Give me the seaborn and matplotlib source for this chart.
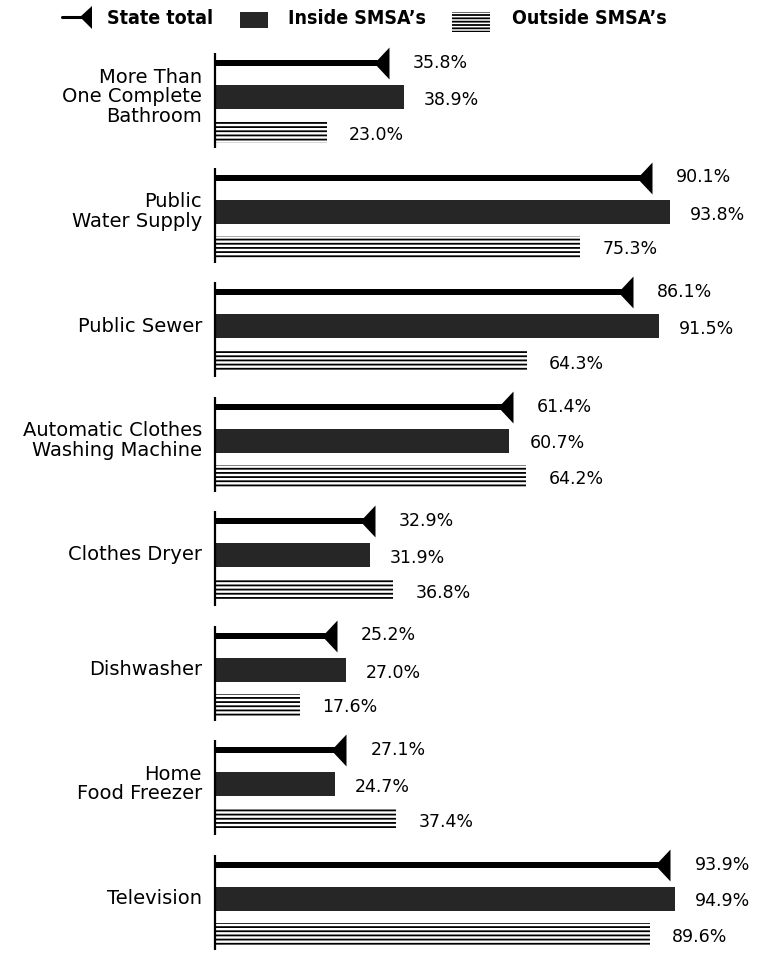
import numpy as np
import pandas as pd
import seaborn as sns
import matplotlib.pyplot as plt
from matplotlib.path import Path
from matplotlib.patches import Rectangle, Polygon
from matplotlib.lines import Line2D

# Data
categories = [
    "More Than\nOne Complete\nBathroom",
    "Public\nWater Supply",
    "Public Sewer",
    "Automatic Clothes\nWashing Machine",
    "Clothes Dryer",
    "Dishwasher",
    "Home\nFood Freezer",
    "Television",
]
state_total = [35.8, 90.1, 86.1, 61.4, 32.9, 25.2, 27.1, 93.9]
inside_smsa = [38.9, 93.8, 91.5, 60.7, 31.9, 27.0, 24.7, 94.9]
outside_smsa = [23.0, 75.3, 64.3, 64.2, 36.8, 17.6, 37.4, 89.6]

sns.set_theme(style="white")
plt.rcParams["font.family"] = ["DejaVu Sans"]
plt.rcParams["text.color"] = "black"
plt.rcParams["hatch.linewidth"] = 1.3

W, H = 762, 957
PX = 4.85      # pixels per percent
X0 = 215       # pixel position of the zero line
GROUP = 114.5  # vertical spacing between groups (px)
TOP = 63
DARK = "#262626"

fig = plt.figure(figsize=(W / 100, H / 100), dpi=100)
ax = fig.add_axes([0, 0, 1, 1])

ys = TOP + GROUP * np.arange(len(categories))
df = pd.DataFrame({
    "label": categories,
    "state": state_total,
    "inside": inside_smsa,
    "outside": outside_smsa,
    "y_state": ys,
    "y_in": ys + 34,
    "y_out": ys + 69,
})

# state total: thick line + left pointing triangle at the value
sns.barplot(data=df, x="state", y="y_state", orient="y", native_scale=True,
            width=6 / GROUP, color="black", saturation=1, errorbar=None,
            linewidth=0, ax=ax)
tri = Path([(0, 1), (0, -1), (-0.94, 0), (0, 1)], closed=True)
ax.scatter(df["state"], df["y_state"], marker=tri, s=23 ** 2, color="black",
           linewidths=0, zorder=3)

# inside SMSA's: dark solid bars
sns.barplot(data=df, x="inside", y="y_in", orient="y", native_scale=True,
            width=24 / GROUP, color=DARK, saturation=1, errorbar=None,
            linewidth=0, ax=ax)

# outside SMSA's: horizontal hatching
sns.barplot(data=df, x="outside", y="y_out", orient="y", native_scale=True,
            width=22 / GROUP, color="white", saturation=1, errorbar=None,
            edgecolor="black", linewidth=0, hatch="----", ax=ax)

# zero line per group
ax.vlines(np.zeros(len(df)), df["y_state"] - 10, df["y_out"] + 16,
          color="black", lw=1.6)

for _, r in df.iterrows():
    ax.text(-13 / PX, r["y_in"], r["label"], ha="right", va="center",
            multialignment="right", fontsize=14, linespacing=1.05)
    ax.text(r["state"] + 24 / PX, r["y_state"], f"{r['state']:.1f}%",
            va="center", fontsize=12.5)
    ax.text(r["inside"] + 20 / PX, r["y_in"] + 3, f"{r['inside']:.1f}%",
            va="center", fontsize=12.5)
    ax.text(r["outside"] + 22 / PX, r["y_out"] + 3, f"{r['outside']:.1f}%",
            va="center", fontsize=12.5)

ax.set_xlim(-X0 / PX, (W - X0) / PX)
ax.set_ylim(H, 0)
ax.axis("off")

# legend row along the top, in figure pixels
def fx(p):
    return p / W

def fy(p):
    return 1 - p / H

tf = fig.transFigure
fig.add_artist(Line2D([fx(62), fx(84)], [fy(17), fy(17)], lw=2.2,
                      color="black", transform=tf))
fig.add_artist(Polygon([(fx(80), fy(17)), (fx(92), fy(6)), (fx(92), fy(29))],
                       closed=True, color="black", lw=0, transform=tf))
fig.add_artist(Rectangle((fx(240), fy(28)), 28 / W, 16 / H, color=DARK,
                         lw=0, transform=tf))
fig.add_artist(Rectangle((fx(452), fy(32)), 38 / W, 20 / H, facecolor="white",
                         edgecolor="black", lw=0, hatch="-----", transform=tf))
leg_font = dict(fontsize=14, fontweight="bold", fontstretch="condensed",
                va="center")
fig.text(fx(107), fy(18), "State total", **leg_font)
fig.text(fx(288), fy(18), "Inside SMSA’s", **leg_font)
fig.text(fx(512), fy(18), "Outside SMSA’s", **leg_font)

plt.savefig("out.png", dpi=100)
plt.close()
